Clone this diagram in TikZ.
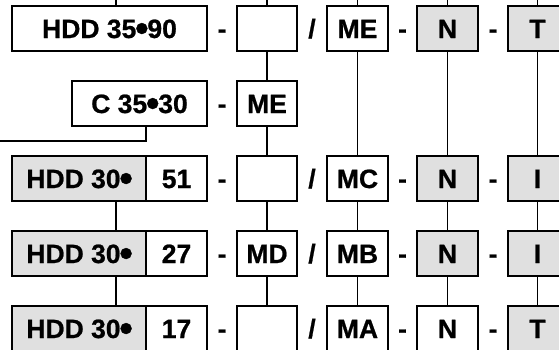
\documentclass[tikz,border=0pt]{standalone}
\usepackage{fontspec}
\setmainfont{Liberation Sans}[BoldFeatures={FakeBold=0.8}]
\definecolor{boxgray}{RGB}{224,224,224}
\newcommand{\bigdot}{\kern-1.2pt\raisebox{-3.2pt}{\scalebox{1.45}{•}}\kern-1.2pt}
\begin{document}
\begin{tikzpicture}[x=1pt,y=-1pt,
  lbl/.style={inner sep=0pt, outer sep=0pt, text height=19pt, text depth=0pt,
    font=\fontsize{26.5}{30}\selectfont\bfseries},
  cell/.style={lbl, draw, line width=1.1pt, minimum height=45pt},
  wide/.style={cell, minimum width=#1},
  link/.style={line width=1.1pt}]
\useasboundingbox (0,0) rectangle (559,349);
\clip (0,0) rectangle (559,349);
% column coordinates (free ends at the top and left edge)
\coordinate (ta) at (116,0);
\coordinate (tb) at (267,0);
\coordinate (tc) at (357.5,0);
\coordinate (td) at (447.5,0);
\coordinate (te) at (537.5,0);
\coordinate (cl) at (0,141);
% Row 1
\node[wide=195pt] (h1) at (109.5,28.5) {HDD 35\bigdot90};
\node[lbl] (s1a) at (222,28.5) {-};
\node[wide=60pt] (b1) at (267,28.5) {};
\node[lbl] (s1b) at (312,28.5) {/};
\node[wide=61pt] (c1) at (357.5,28.5) {ME};
\node[lbl] (s1c) at (402.5,28.5) {-};
\node[wide=61pt, fill=boxgray] (d1) at (447.5,28.5) {N};
\node[lbl] (s1d) at (493,28.5) {-};
\node[wide=59pt, fill=boxgray] (e1) at (537.5,28.5) {T};
% Row 2
\node[wide=135pt] (h2) at (139.5,103.5) {C 35\bigdot30};
\node[lbl] (s2a) at (222,103.5) {-};
\node[wide=60pt] (b2) at (267,103.5) {ME};
% Rows 3-5
\foreach \r/\y/\num/\bt/\ct/\dfill/\et in
  {3/178.5/51//MC/boxgray/I, 4/253.5/27/MD/MB/boxgray/I, 5/328.5/17//MA/white/T}{
  \node[wide=134pt, fill=boxgray] (g\r) at (79,\y) {HDD 30\bigdot};
  \node[wide=61pt] (n\r) at (176.5,\y) {\num};
  \node[lbl] (s\r a) at (222,\y) {-};
  \node[wide=60pt] (b\r) at (267,\y) {\bt};
  \node[lbl] (s\r b) at (312,\y) {/};
  \node[wide=61pt] (c\r) at (357.5,\y) {\ct};
  \node[lbl] (s\r c) at (402.5,\y) {-};
  \node[wide=61pt, fill=\dfill] (d\r) at (447.5,\y) {N};
  \node[lbl] (s\r d) at (493,\y) {-};
  \node[wide=59pt, fill=boxgray] (e\r) at (537.5,\y) {\et};
}
% connectors from the top edge
\draw[link] (ta) -- (ta |- h1.north);
\draw[link] (tb) -- (b1.north);
\draw[link] (tc) -- (c1.north);
\draw[link] (td) -- (d1.north);
\draw[link] (te) -- (e1.north);
% column B chain
\draw[link] (b1.south) -- (b2.north);
\draw[link] (b2.south) -- (b3.north);
\draw[link] (b3.south) -- (b4.north);
\draw[link] (b4.south) -- (b5.north);
% columns C, D, E
\foreach \c in {c,d,e}{
  \draw[link] (\c1.south) -- (\c3.north);
  \draw[link] (\c3.south) -- (\c4.north);
  \draw[link] (\c4.south) -- (\c5.north);
}
% column A
\draw[link] (g3.south -| ta) -- (g4.north -| ta);
\draw[link] (g4.south -| ta) -- (g5.north -| ta);
% C 35•30 to the left edge
\draw[link] (h2.south -| n3.west) |- (cl);
\end{tikzpicture}
\end{document}
